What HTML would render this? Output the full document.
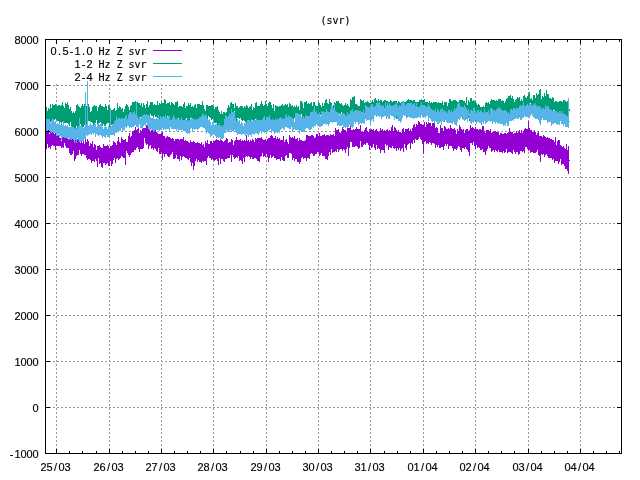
<!DOCTYPE html>
<html lang="en">
<head>
<meta charset="utf-8">
<title>(svr)</title>
<style>
html,body{margin:0;padding:0;background:#fff;overflow:hidden}
svg{display:block}
text{font-family:"Liberation Sans","DejaVu Sans",sans-serif;font-size:11px;fill:#000;stroke:#000;stroke-width:.15px;text-anchor:middle}
.d{font-family:"DejaVu Sans Mono","Liberation Mono",monospace;font-size:10px}
.g{stroke:#999999;stroke-width:1;stroke-dasharray:2 2;fill:none}
.b{stroke:#000;stroke-width:1;fill:none}
</style>
</head>
<body>
<svg width="640" height="480" viewBox="0 0 640 480" shape-rendering="crispEdges">
<rect width="640" height="480" fill="#fff"/>
<path class="g" d="M45 85.5 H621 M45 131.5 H621 M45 177.5 H621 M45 223.5 H621 M45 269.5 H621 M45 315.5 H621 M45 361.5 H621 M45 407.5 H621"/>
<path class="g" d="M56.5 454 V39 M109.5 454 V39 M161.5 454 V39 M213.5 454 V39 M266.5 454 V39 M318.5 454 V39 M370.5 454 V39 M423.5 454 V39 M475.5 454 V39 M528.5 454 V39 M580.5 454 V39"/>
<rect x="46" y="44" width="141" height="39" fill="#fff"/>
<path fill="#9400d3" d="M46 130v19h1v-19zM47 131v13h1v-13zM48 129v19h1v-19zM49 134v13h1v-13zM50 131v18h1v-18zM51 133v13h1v-13zM52 132v13h1v-13zM53 133v13h1v-13zM54 134v12h1v-12zM55 133v17h1v-17zM56 131v15h1v-15zM57 133v13h1v-13zM58 135v11h1v-11zM59 133v13h1v-13zM60 138v8h1v-8zM61 141v7h1v-7zM62 138v9h1v-9zM63 137v11h1v-11zM64 136v7h1v-7zM65 136v10h1v-10zM66 138v10h1v-10zM67 138v10h1v-10zM68 139v9h1v-9zM69 138v15h1v-15zM70 136v19h1v-19zM71 139v16h1v-16zM72 138v16h1v-16zM73 139v12h1v-12zM74 140v21h1v-21zM75 139v20h1v-20zM76 139v17h1v-17zM77 139v16h1v-16zM78 139v16h1v-16zM79 141v9h1v-9zM80 143v11h1v-11zM81 140v16h1v-16zM82 143v11h1v-11zM83 139v15h1v-15zM84 144v11h1v-11zM85 137v18h1v-18zM86 142v16h1v-16zM87 139v21h1v-21zM88 141v18h1v-18zM89 146v13h1v-13zM90 143v17h1v-17zM91 144v19h1v-19zM92 141v20h1v-20zM93 147v14h1v-14zM94 144v18h1v-18zM95 145v14h1v-14zM96 150v11h1v-11zM97 146v21h1v-21zM98 146v12h1v-12zM99 145v19h1v-19zM100 147v16h1v-16zM101 148v19h1v-19zM102 148v20h1v-20zM103 144v19h1v-19zM104 146v17h1v-17zM105 146v19h1v-19zM106 146v18h1v-18zM107 145v18h1v-18zM108 146v20h1v-20zM109 148v18h1v-18zM110 146v15h1v-15zM111 146v20h1v-20zM112 145v19h1v-19zM113 141v19h1v-19zM114 142v16h1v-16zM115 143v20h1v-20zM116 145v14h1v-14zM117 141v17h1v-17zM118 137v23h1v-23zM119 142v17h1v-17zM120 143v15h1v-15zM121 137v19h1v-19zM122 139v18h1v-18zM123 140v18h1v-18zM124 140v18h1v-18zM125 139v26h1v-26zM126 142v9h1v-9zM127 142v11h1v-11zM128 136v19h1v-19zM129 133v24h1v-24zM130 137v18h1v-18zM131 136v17h1v-17zM132 131v21h1v-21zM133 131v21h1v-21zM134 130v20h1v-20zM135 127v23h1v-23zM136 130v18h1v-18zM137 129v18h1v-18zM138 128v21h1v-21zM139 133v19h1v-19zM140 130v19h1v-19zM141 131v18h1v-18zM142 128v21h1v-21zM143 128v20h1v-20zM144 128v10h1v-10zM145 128v15h1v-15zM146 125v20h1v-20zM147 126v18h1v-18zM148 124v25h1v-25zM149 126v20h1v-20zM150 132v13h1v-13zM151 130v19h1v-19zM152 130v18h1v-18zM153 129v21h1v-21zM154 130v18h1v-18zM155 129v20h1v-20zM156 132v19h1v-19zM157 133v19h1v-19zM158 134v14h1v-14zM159 134v20h1v-20zM160 134v20h1v-20zM161 133v19h1v-19zM162 132v28h1v-28zM163 136v18h1v-18zM164 136v21h1v-21zM165 138v16h1v-16zM166 137v17h1v-17zM167 136v20h1v-20zM168 137v20h1v-20zM169 137v20h1v-20zM170 138v17h1v-17zM171 139v15h1v-15zM172 138v14h1v-14zM173 139v20h1v-20zM174 141v18h1v-18zM175 139v19h1v-19zM176 139v16h1v-16zM177 139v20h1v-20zM178 139v20h1v-20zM179 140v21h1v-21zM180 139v17h1v-17zM181 139v21h1v-21zM182 139v18h1v-18zM183 137v19h1v-19zM184 141v16h1v-16zM185 140v18h1v-18zM186 141v17h1v-17zM187 141v18h1v-18zM188 142v18h1v-18zM189 143v15h1v-15zM190 140v22h1v-22zM191 142v24h1v-24zM192 142v21h1v-21zM193 141v29h1v-29zM194 142v24h1v-24zM195 143v18h1v-18zM196 143v16h1v-16zM197 142v20h1v-20zM198 143v17h1v-17zM199 143v19h1v-19zM200 144v18h1v-18zM201 142v21h1v-21zM202 145v16h1v-16zM203 144v18h1v-18zM204 147v14h1v-14zM205 141v20h1v-20zM206 143v22h1v-22zM207 140v18h1v-18zM208 144v12h1v-12zM209 144v14h1v-14zM210 141v17h1v-17zM211 141v19h1v-19zM212 143v16h1v-16zM213 141v19h1v-19zM214 141v20h1v-20zM215 140v20h1v-20zM216 139v20h1v-20zM217 140v21h1v-21zM218 140v25h1v-25zM219 141v17h1v-17zM220 139v25h1v-25zM221 140v19h1v-19zM222 141v18h1v-18zM223 142v19h1v-19zM224 141v21h1v-21zM225 140v19h1v-19zM226 138v21h1v-21zM227 139v19h1v-19zM228 143v15h1v-15zM229 142v16h1v-16zM230 142v13h1v-13zM231 139v23h1v-23zM232 140v15h1v-15zM233 145v12h1v-12zM234 141v18h1v-18zM235 140v18h1v-18zM236 137v20h1v-20zM237 140v18h1v-18zM238 140v16h1v-16zM239 140v21h1v-21zM240 139v21h1v-21zM241 141v20h1v-20zM242 140v24h1v-24zM243 141v17h1v-17zM244 140v22h1v-22zM245 141v16h1v-16zM246 135v21h1v-21zM247 141v16h1v-16zM248 140v16h1v-16zM249 142v15h1v-15zM250 140v19h1v-19zM251 141v16h1v-16zM252 139v20h1v-20zM253 140v19h1v-19zM254 142v16h1v-16zM255 138v20h1v-20zM256 139v20h1v-20zM257 138v23h1v-23zM258 138v23h1v-23zM259 138v24h1v-24zM260 138v19h1v-19zM261 137v19h1v-19zM262 139v14h1v-14zM263 140v17h1v-17zM264 140v16h1v-16zM265 139v18h1v-18zM266 141v13h1v-13zM267 139v18h1v-18zM268 138v24h1v-24zM269 138v20h1v-20zM270 136v19h1v-19zM271 135v23h1v-23zM272 136v21h1v-21zM273 138v18h1v-18zM274 138v20h1v-20zM275 136v22h1v-22zM276 139v21h1v-21zM277 137v22h1v-22zM278 139v20h1v-20zM279 138v21h1v-21zM280 140v21h1v-21zM281 140v17h1v-17zM282 140v20h1v-20zM283 136v25h1v-25zM284 142v19h1v-19zM285 140v16h1v-16zM286 139v16h1v-16zM287 142v16h1v-16zM288 144v14h1v-14zM289 135v18h1v-18zM290 137v16h1v-16zM291 138v16h1v-16zM292 137v23h1v-23zM293 138v20h1v-20zM294 136v25h1v-25zM295 139v20h1v-20zM296 139v20h1v-20zM297 138v24h1v-24zM298 141v21h1v-21zM299 138v26h1v-26zM300 140v22h1v-22zM301 140v18h1v-18zM302 141v16h1v-16zM303 141v18h1v-18zM304 141v17h1v-17zM305 140v18h1v-18zM306 135v26h1v-26zM307 135v23h1v-23zM308 136v22h1v-22zM309 136v23h1v-23zM310 136v18h1v-18zM311 135v18h1v-18zM312 135v19h1v-19zM313 136v20h1v-20zM314 138v18h1v-18zM315 137v17h1v-17zM316 134v20h1v-20zM317 134v18h1v-18zM318 136v16h1v-16zM319 133v23h1v-23zM320 136v19h1v-19zM321 136v17h1v-17zM322 135v21h1v-21zM323 135v21h1v-21zM324 134v22h1v-22zM325 136v23h1v-23zM326 135v24h1v-24zM327 135v25h1v-25zM328 135v21h1v-21zM329 136v16h1v-16zM330 134v21h1v-21zM331 135v14h1v-14zM332 135v18h1v-18zM333 134v18h1v-18zM334 136v16h1v-16zM335 128v23h1v-23zM336 130v22h1v-22zM337 130v19h1v-19zM338 129v23h1v-23zM339 132v18h1v-18zM340 133v16h1v-16zM341 131v18h1v-18zM342 127v24h1v-24zM343 129v20h1v-20zM344 130v20h1v-20zM345 130v23h1v-23zM346 132v17h1v-17zM347 127v20h1v-20zM348 128v28h1v-28zM349 128v20h1v-20zM350 126v16h1v-16zM351 130v12h1v-12zM352 130v17h1v-17zM353 129v18h1v-18zM354 130v17h1v-17zM355 129v17h1v-17zM356 127v19h1v-19zM357 129v18h1v-18zM358 129v20h1v-20zM359 129v19h1v-19zM360 125v16h1v-16zM361 132v15h1v-15zM362 131v16h1v-16zM363 132v13h1v-13zM364 130v14h1v-14zM365 128v17h1v-17zM366 127v16h1v-16zM367 131v12h1v-12zM368 132v13h1v-13zM369 129v21h1v-21zM370 130v16h1v-16zM371 129v19h1v-19zM372 130v17h1v-17zM373 129v15h1v-15zM374 131v17h1v-17zM375 130v20h1v-20zM376 129v16h1v-16zM377 131v18h1v-18zM378 132v16h1v-16zM379 131v18h1v-18zM380 128v25h1v-25zM381 130v20h1v-20zM382 129v21h1v-21zM383 131v19h1v-19zM384 130v23h1v-23zM385 131v13h1v-13zM386 130v16h1v-16zM387 129v16h1v-16zM388 131v19h1v-19zM389 130v17h1v-17zM390 131v17h1v-17zM391 127v21h1v-21zM392 125v21h1v-21zM393 131v17h1v-17zM394 127v22h1v-22zM395 128v20h1v-20zM396 130v21h1v-21zM397 132v16h1v-16zM398 130v20h1v-20zM399 132v16h1v-16zM400 132v19h1v-19zM401 133v16h1v-16zM402 129v19h1v-19zM403 128v24h1v-24zM404 132v12h1v-12zM405 129v19h1v-19zM406 129v21h1v-21zM407 129v16h1v-16zM408 128v16h1v-16zM409 131v12h1v-12zM410 129v20h1v-20zM411 131v12h1v-12zM412 128v16h1v-16zM413 125v15h1v-15zM414 124v19h1v-19zM415 127v12h1v-12zM416 124v16h1v-16zM417 125v15h1v-15zM418 121v18h1v-18zM419 122v15h1v-15zM420 124v15h1v-15zM421 124v16h1v-16zM422 125v19h1v-19zM423 125v29h1v-29zM424 122v20h1v-20zM425 127v14h1v-14zM426 122v22h1v-22zM427 124v19h1v-19zM428 122v22h1v-22zM429 123v19h1v-19zM430 123v20h1v-20zM431 126v19h1v-19zM432 123v20h1v-20zM433 123v20h1v-20zM434 124v20h1v-20zM435 128v20h1v-20zM436 127v18h1v-18zM437 128v19h1v-19zM438 133v12h1v-12zM439 133v15h1v-15zM440 125v23h1v-23zM441 128v19h1v-19zM442 128v19h1v-19zM443 131v19h1v-19zM444 126v20h1v-20zM445 127v17h1v-17zM446 129v17h1v-17zM447 129v15h1v-15zM448 128v21h1v-21zM449 129v17h1v-17zM450 125v21h1v-21zM451 128v18h1v-18zM452 129v19h1v-19zM453 129v22h1v-22zM454 128v21h1v-21zM455 130v19h1v-19zM456 134v16h1v-16zM457 129v19h1v-19zM458 131v15h1v-15zM459 125v22h1v-22zM460 127v23h1v-23zM461 129v23h1v-23zM462 130v18h1v-18zM463 129v19h1v-19zM464 133v16h1v-16zM465 130v17h1v-17zM466 129v20h1v-20zM467 129v21h1v-21zM468 131v21h1v-21zM469 130v26h1v-26zM470 125v18h1v-18zM471 128v15h1v-15zM472 127v18h1v-18zM473 128v14h1v-14zM474 129v17h1v-17zM475 127v22h1v-22zM476 129v16h1v-16zM477 129v19h1v-19zM478 130v17h1v-17zM479 129v19h1v-19zM480 129v21h1v-21zM481 130v20h1v-20zM482 126v23h1v-23zM483 126v26h1v-26zM484 131v21h1v-21zM485 133v22h1v-22zM486 130v21h1v-21zM487 130v19h1v-19zM488 130v16h1v-16zM489 131v17h1v-17zM490 129v19h1v-19zM491 133v19h1v-19zM492 132v19h1v-19zM493 132v18h1v-18zM494 131v21h1v-21zM495 131v19h1v-19zM496 132v19h1v-19zM497 132v20h1v-20zM498 132v18h1v-18zM499 135v17h1v-17zM500 133v19h1v-19zM501 133v19h1v-19zM502 134v19h1v-19zM503 134v17h1v-17zM504 133v20h1v-20zM505 133v19h1v-19zM506 134v15h1v-15zM507 133v20h1v-20zM508 132v20h1v-20zM509 128v24h1v-24zM510 132v20h1v-20zM511 132v21h1v-21zM512 132v22h1v-22zM513 134v16h1v-16zM514 133v19h1v-19zM515 133v21h1v-21zM516 131v21h1v-21zM517 133v19h1v-19zM518 132v23h1v-23zM519 130v24h1v-24zM520 133v18h1v-18zM521 130v21h1v-21zM522 133v19h1v-19zM523 131v20h1v-20zM524 129v24h1v-24zM525 128v19h1v-19zM526 129v18h1v-18zM527 129v20h1v-20zM528 121v30h1v-30zM529 128v22h1v-22zM530 130v23h1v-23zM531 130v22h1v-22zM532 132v20h1v-20zM533 132v21h1v-21zM534 130v23h1v-23zM535 132v21h1v-21zM536 135v17h1v-17zM537 133v17h1v-17zM538 131v24h1v-24zM539 136v20h1v-20zM540 136v26h1v-26zM541 136v18h1v-18zM542 137v18h1v-18zM543 135v19h1v-19zM544 136v21h1v-21zM545 137v18h1v-18zM546 138v16h1v-16zM547 137v19h1v-19zM548 138v20h1v-20zM549 138v20h1v-20zM550 139v19h1v-19zM551 139v19h1v-19zM552 140v20h1v-20zM553 140v19h1v-19zM554 142v21h1v-21zM555 137v24h1v-24zM556 145v16h1v-16zM557 141v20h1v-20zM558 140v24h1v-24zM559 140v22h1v-22zM560 145v14h1v-14zM561 146v19h1v-19zM562 147v17h1v-17zM563 146v18h1v-18zM564 148v18h1v-18zM565 149v20h1v-20zM566 144v25h1v-25zM567 150v21h1v-21zM568 146v28h1v-28z"/>
<path fill="#009e73" d="M46 107v14h1v-14zM47 111v15h1v-15zM48 108v18h1v-18zM49 109v14h1v-14zM50 104v18h1v-18zM51 108v14h1v-14zM52 104v20h1v-20zM53 105v16h1v-16zM54 105v15h1v-15zM55 104v15h1v-15zM56 105v15h1v-15zM57 106v15h1v-15zM58 105v16h1v-16zM59 105v18h1v-18zM60 106v16h1v-16zM61 105v20h1v-20zM62 102v20h1v-20zM63 106v17h1v-17zM64 108v15h1v-15zM65 103v20h1v-20zM66 104v19h1v-19zM67 102v21h1v-21zM68 105v19h1v-19zM69 109v17h1v-17zM70 107v15h1v-15zM71 111v19h1v-19zM72 113v15h1v-15zM73 112v17h1v-17zM74 113v16h1v-16zM75 111v18h1v-18zM76 105v21h1v-21zM77 104v25h1v-25zM78 106v21h1v-21zM79 107v22h1v-22zM80 108v16h1v-16zM81 106v20h1v-20zM82 104v23h1v-23zM83 106v21h1v-21zM84 104v21h1v-21zM85 104v24h1v-24zM86 106v22h1v-22zM87 105v22h1v-22zM88 104v17h1v-17zM89 107v14h1v-14zM90 112v10h1v-10zM91 111v11h1v-11zM92 107v16h1v-16zM93 106v19h1v-19zM94 105v19h1v-19zM95 106v17h1v-17zM96 106v14h1v-14zM97 111v13h1v-13zM98 107v17h1v-17zM99 105v18h1v-18zM100 104v18h1v-18zM101 106v19h1v-19zM102 106v20h1v-20zM103 107v17h1v-17zM104 107v19h1v-19zM105 104v21h1v-21zM106 106v18h1v-18zM107 110v13h1v-13zM108 105v18h1v-18zM109 106v21h1v-21zM110 109v14h1v-14zM111 110v15h1v-15zM112 110v16h1v-16zM113 109v16h1v-16zM114 108v16h1v-16zM115 111v12h1v-12zM116 110v11h1v-11zM117 103v19h1v-19zM118 108v14h1v-14zM119 106v15h1v-15zM120 107v16h1v-16zM121 109v10h1v-10zM122 108v11h1v-11zM123 112v7h1v-7zM124 109v10h1v-10zM125 106v15h1v-15zM126 104v15h1v-15zM127 105v14h1v-14zM128 107v12h1v-12zM129 110v11h1v-11zM130 106v6h1v-6zM131 105v10h1v-10zM132 102v12h1v-12zM133 102v12h1v-12zM134 102v14h1v-14zM135 101v15h1v-15zM136 107v11h1v-11zM137 102v19h1v-19zM138 103v22h1v-22zM139 103v17h1v-17zM140 105v12h1v-12zM141 103v17h1v-17zM142 107v10h1v-10zM143 103v12h1v-12zM144 105v12h1v-12zM145 108v10h1v-10zM146 104v10h1v-10zM147 101v15h1v-15zM148 107v9h1v-9zM149 105v13h1v-13zM150 102v12h1v-12zM151 102v14h1v-14zM152 102v14h1v-14zM153 105v12h1v-12zM154 104v11h1v-11zM155 105v12h1v-12zM156 105v12h1v-12zM157 101v17h1v-17zM158 105v10h1v-10zM159 103v18h1v-18zM160 104v13h1v-13zM161 102v15h1v-15zM162 103v14h1v-14zM163 103v15h1v-15zM164 99v20h1v-20zM165 100v18h1v-18zM166 104v14h1v-14zM167 103v13h1v-13zM168 103v14h1v-14zM169 102v14h1v-14zM170 105v15h1v-15zM171 102v18h1v-18zM172 103v15h1v-15zM173 104v18h1v-18zM174 105v16h1v-16zM175 102v19h1v-19zM176 102v18h1v-18zM177 101v20h1v-20zM178 107v11h1v-11zM179 106v16h1v-16zM180 106v17h1v-17zM181 106v13h1v-13zM182 107v15h1v-15zM183 104v17h1v-17zM184 102v19h1v-19zM185 108v13h1v-13zM186 106v12h1v-12zM187 106v15h1v-15zM188 103v18h1v-18zM189 105v15h1v-15zM190 103v15h1v-15zM191 107v13h1v-13zM192 106v14h1v-14zM193 107v12h1v-12zM194 105v15h1v-15zM195 104v20h1v-20zM196 108v14h1v-14zM197 104v17h1v-17zM198 104v19h1v-19zM199 104v17h1v-17zM200 105v12h1v-12zM201 105v13h1v-13zM202 101v16h1v-16zM203 105v13h1v-13zM204 109v12h1v-12zM205 111v11h1v-11zM206 105v13h1v-13zM207 105v16h1v-16zM208 106v10h1v-10zM209 106v11h1v-11zM210 106v12h1v-12zM211 105v15h1v-15zM212 105v14h1v-14zM213 106v13h1v-13zM214 109v14h1v-14zM215 107v16h1v-16zM216 107v16h1v-16zM217 106v21h1v-21zM218 110v17h1v-17zM219 112v15h1v-15zM220 114v15h1v-15zM221 111v17h1v-17zM222 114v13h1v-13zM223 112v15h1v-15zM224 112v11h1v-11zM225 113v6h1v-6zM226 112v6h1v-6zM227 108v11h1v-11zM228 105v15h1v-15zM229 107v9h1v-9zM230 103v13h1v-13zM231 102v12h1v-12zM232 104v10h1v-10zM233 104v12h1v-12zM234 108v3h1v-3zM235 103v16h1v-16zM236 106v17h1v-17zM237 106v12h1v-12zM238 108v10h1v-10zM239 107v12h1v-12zM240 106v12h1v-12zM241 106v14h1v-14zM242 106v15h1v-15zM243 108v12h1v-12zM244 106v15h1v-15zM245 107v15h1v-15zM246 105v20h1v-20zM247 106v21h1v-21zM248 108v18h1v-18zM249 107v15h1v-15zM250 106v15h1v-15zM251 104v19h1v-19zM252 110v10h1v-10zM253 107v16h1v-16zM254 108v16h1v-16zM255 103v16h1v-16zM256 102v20h1v-20zM257 106v17h1v-17zM258 106v17h1v-17zM259 106v16h1v-16zM260 104v23h1v-23zM261 101v21h1v-21zM262 104v17h1v-17zM263 106v14h1v-14zM264 105v14h1v-14zM265 101v21h1v-21zM266 104v17h1v-17zM267 106v14h1v-14zM268 103v19h1v-19zM269 102v16h1v-16zM270 102v19h1v-19zM271 105v16h1v-16zM272 108v13h1v-13zM273 104v17h1v-17zM274 111v10h1v-10zM275 105v16h1v-16zM276 106v19h1v-19zM277 106v15h1v-15zM278 107v14h1v-14zM279 106v15h1v-15zM280 106v15h1v-15zM281 105v16h1v-16zM282 104v17h1v-17zM283 106v17h1v-17zM284 105v16h1v-16zM285 104v12h1v-12zM286 105v12h1v-12zM287 104v13h1v-13zM288 107v9h1v-9zM289 103v15h1v-15zM290 104v17h1v-17zM291 106v14h1v-14zM292 105v15h1v-15zM293 107v14h1v-14zM294 106v12h1v-12zM295 107v9h1v-9zM296 105v11h1v-11zM297 107v8h1v-8zM298 106v12h1v-12zM299 110v7h1v-7zM300 101v15h1v-15zM301 101v13h1v-13zM302 103v15h1v-15zM303 108v10h1v-10zM304 102v18h1v-18zM305 102v16h1v-16zM306 101v16h1v-16zM307 104v13h1v-13zM308 103v14h1v-14zM309 104v15h1v-15zM310 103v17h1v-17zM311 102v13h1v-13zM312 106v8h1v-8zM313 102v9h1v-9zM314 102v8h1v-8zM315 105v8h1v-8zM316 106v6h1v-6zM317 106v10h1v-10zM318 102v15h1v-15zM319 103v13h1v-13zM320 105v10h1v-10zM321 107v8h1v-8zM322 103v12h1v-12zM323 106v8h1v-8zM324 103v11h1v-11zM325 100v14h1v-14zM326 99v15h1v-15zM327 103v9h1v-9zM328 104v9h1v-9zM329 99v15h1v-15zM330 102v8h1v-8zM331 103v9h1v-9zM332 106v2h1v-2zM333 105v3h1v-3zM334 102v6h1v-6zM335 103v11h1v-11zM336 101v12h1v-12zM337 101v13h1v-13zM338 101v12h1v-12zM339 103v11h1v-11zM340 104v14h1v-14zM341 103v9h1v-9zM342 105v11h1v-11zM343 106v11h1v-11zM344 105v13h1v-13zM345 103v13h1v-13zM346 105v13h1v-13zM347 104v12h1v-12zM348 106v9h1v-9zM349 107v7h1v-7zM350 99v14h1v-14zM351 100v13h1v-13zM352 97v14h1v-14zM353 97v16h1v-16zM354 96v16h1v-16zM355 104v9h1v-9zM356 104v9h1v-9zM357 105v8h1v-8zM358 106v6h1v-6zM359 106v7h1v-7zM360 99v13h1v-13zM361 100v12h1v-12zM362 101v12h1v-12zM363 100v13h1v-13zM364 103v11h1v-11zM365 102v15h1v-15zM366 102v16h1v-16zM367 101v17h1v-17zM368 102v17h1v-17zM369 103v17h1v-17zM370 103v17h1v-17zM371 102v17h1v-17zM372 100v19h1v-19zM373 102v16h1v-16zM374 99v15h1v-15zM375 98v16h1v-16zM376 100v14h1v-14zM377 101v12h1v-12zM378 99v17h1v-17zM379 101v14h1v-14zM380 100v15h1v-15zM381 100v15h1v-15zM382 102v11h1v-11zM383 101v14h1v-14zM384 100v16h1v-16zM385 100v15h1v-15zM386 101v15h1v-15zM387 101v15h1v-15zM388 102v14h1v-14zM389 102v17h1v-17zM390 100v14h1v-14zM391 101v14h1v-14zM392 102v14h1v-14zM393 101v13h1v-13zM394 101v15h1v-15zM395 101v14h1v-14zM396 101v18h1v-18zM397 103v14h1v-14zM398 101v18h1v-18zM399 102v19h1v-19zM400 103v16h1v-16zM401 102v17h1v-17zM402 102v14h1v-14zM403 101v13h1v-13zM404 102v12h1v-12zM405 102v13h1v-13zM406 101v11h1v-11zM407 100v17h1v-17zM408 99v16h1v-16zM409 100v17h1v-17zM410 100v16h1v-16zM411 100v16h1v-16zM412 101v16h1v-16zM413 100v18h1v-18zM414 100v16h1v-16zM415 102v14h1v-14zM416 102v13h1v-13zM417 102v12h1v-12zM418 102v15h1v-15zM419 100v16h1v-16zM420 100v16h1v-16zM421 99v16h1v-16zM422 100v16h1v-16zM423 100v14h1v-14zM424 99v17h1v-17zM425 102v16h1v-16zM426 102v14h1v-14zM427 102v14h1v-14zM428 103v18h1v-18zM429 101v17h1v-17zM430 103v12h1v-12zM431 102v17h1v-17zM432 103v17h1v-17zM433 102v18h1v-18zM434 102v22h1v-22zM435 102v19h1v-19zM436 102v19h1v-19zM437 103v17h1v-17zM438 102v17h1v-17zM439 103v20h1v-20zM440 103v16h1v-16zM441 103v19h1v-19zM442 101v19h1v-19zM443 105v16h1v-16zM444 102v20h1v-20zM445 102v17h1v-17zM446 102v17h1v-17zM447 106v12h1v-12zM448 103v19h1v-19zM449 99v24h1v-24zM450 99v23h1v-23zM451 101v21h1v-21zM452 101v23h1v-23zM453 100v22h1v-22zM454 100v24h1v-24zM455 100v23h1v-23zM456 101v23h1v-23zM457 102v19h1v-19zM458 102v16h1v-16zM459 100v18h1v-18zM460 100v16h1v-16zM461 100v17h1v-17zM462 100v19h1v-19zM463 101v14h1v-14zM464 101v17h1v-17zM465 103v14h1v-14zM466 97v22h1v-22zM467 105v10h1v-10zM468 100v18h1v-18zM469 102v19h1v-19zM470 98v22h1v-22zM471 98v21h1v-21zM472 101v18h1v-18zM473 100v19h1v-19zM474 101v19h1v-19zM475 101v20h1v-20zM476 103v18h1v-18zM477 105v15h1v-15zM478 104v18h1v-18zM479 105v18h1v-18zM480 107v14h1v-14zM481 107v18h1v-18zM482 107v12h1v-12zM483 106v15h1v-15zM484 107v13h1v-13zM485 103v19h1v-19zM486 102v19h1v-19zM487 103v17h1v-17zM488 102v18h1v-18zM489 104v15h1v-15zM490 101v19h1v-19zM491 99v20h1v-20zM492 100v21h1v-21zM493 100v17h1v-17zM494 100v21h1v-21zM495 101v21h1v-21zM496 100v20h1v-20zM497 101v19h1v-19zM498 99v24h1v-24zM499 99v23h1v-23zM500 99v22h1v-22zM501 101v21h1v-21zM502 100v23h1v-23zM503 101v22h1v-22zM504 103v21h1v-21zM505 101v23h1v-23zM506 99v24h1v-24zM507 98v27h1v-27zM508 96v28h1v-28zM509 96v24h1v-24zM510 95v24h1v-24zM511 98v22h1v-22zM512 96v22h1v-22zM513 99v20h1v-20zM514 102v17h1v-17zM515 100v19h1v-19zM516 99v19h1v-19zM517 97v21h1v-21zM518 98v20h1v-20zM519 97v20h1v-20zM520 101v19h1v-19zM521 99v11h1v-11zM522 101v6h1v-6zM523 96v12h1v-12zM524 95v11h1v-11zM525 97v11h1v-11zM526 98v9h1v-9zM527 96v12h1v-12zM528 94v13h1v-13zM529 92v13h1v-13zM530 99v4h1v-4zM531 98v10h1v-10zM532 100v7h1v-7zM533 95v12h1v-12zM534 95v13h1v-13zM535 98v9h1v-9zM536 93v14h1v-14zM537 95v13h1v-13zM538 94v15h1v-15zM539 90v20h1v-20zM540 89v20h1v-20zM541 99v11h1v-11zM542 96v18h1v-18zM543 97v12h1v-12zM544 93v19h1v-19zM545 96v10h1v-10zM546 90v18h1v-18zM547 94v16h1v-16zM548 94v14h1v-14zM549 98v13h1v-13zM550 98v13h1v-13zM551 99v13h1v-13zM552 97v16h1v-16zM553 98v12h1v-12zM554 102v10h1v-10zM555 101v15h1v-15zM556 101v13h1v-13zM557 102v12h1v-12zM558 102v12h1v-12zM559 101v13h1v-13zM560 101v15h1v-15zM561 101v15h1v-15zM562 102v15h1v-15zM563 100v15h1v-15zM564 100v14h1v-14zM565 101v13h1v-13zM566 102v14h1v-14zM567 101v17h1v-17zM568 99v19h1v-19z"/>
<path fill="#56b4e9" d="M46 119v12h1v-12zM47 119v12h1v-12zM48 119v11h1v-11zM49 119v14h1v-14zM50 123v9h1v-9zM51 120v13h1v-13zM52 119v13h1v-13zM53 119v14h1v-14zM54 122v11h1v-11zM55 121v12h1v-12zM56 125v11h1v-11zM57 123v13h1v-13zM58 124v10h1v-10zM59 123v15h1v-15zM60 125v11h1v-11zM61 125v15h1v-15zM62 125v13h1v-13zM63 121v16h1v-16zM64 126v12h1v-12zM65 125v13h1v-13zM66 126v12h1v-12zM67 125v14h1v-14zM68 127v11h1v-11zM69 127v13h1v-13zM70 127v12h1v-12zM71 126v14h1v-14zM72 127v12h1v-12zM73 127v13h1v-13zM74 128v15h1v-15zM75 129v11h1v-11zM76 128v15h1v-15zM77 128v10h1v-10zM78 126v14h1v-14zM79 118v24h1v-24zM80 126v16h1v-16zM81 126v15h1v-15zM82 127v14h1v-14zM83 128v13h1v-13zM84 127v12h1v-12zM85 92v47h1v-47zM86 124v11h1v-11zM87 81v55h1v-55zM88 126v9h1v-9zM89 125v9h1v-9zM90 123v11h1v-11zM91 125v10h1v-10zM92 125v8h1v-8zM93 125v9h1v-9zM94 124v9h1v-9zM95 124v13h1v-13zM96 127v7h1v-7zM97 124v11h1v-11zM98 123v13h1v-13zM99 125v10h1v-10zM100 124v11h1v-11zM101 123v13h1v-13zM102 127v11h1v-11zM103 129v7h1v-7zM104 127v10h1v-10zM105 125v13h1v-13zM106 127v8h1v-8zM107 129v8h1v-8zM108 126v11h1v-11zM109 127v11h1v-11zM110 108v27h1v-27zM111 126v9h1v-9zM112 124v11h1v-11zM113 124v11h1v-11zM114 121v15h1v-15zM115 120v13h1v-13zM116 116v17h1v-17zM117 119v13h1v-13zM118 118v14h1v-14zM119 118v13h1v-13zM120 119v12h1v-12zM121 118v10h1v-10zM122 118v14h1v-14zM123 119v11h1v-11zM124 118v13h1v-13zM125 116v11h1v-11zM126 115v13h1v-13zM127 119v7h1v-7zM128 115v11h1v-11zM129 113v15h1v-15zM130 112v15h1v-15zM131 112v16h1v-16zM132 114v13h1v-13zM133 112v15h1v-15zM134 111v15h1v-15zM135 114v11h1v-11zM136 102v25h1v-25zM137 116v11h1v-11zM138 119v9h1v-9zM139 117v7h1v-7zM140 118v10h1v-10zM141 117v11h1v-11zM142 115v14h1v-14zM143 115v11h1v-11zM144 114v11h1v-11zM145 115v11h1v-11zM146 114v9h1v-9zM147 115v11h1v-11zM148 115v14h1v-14zM149 116v14h1v-14zM150 117v13h1v-13zM151 118v11h1v-11zM152 118v12h1v-12zM153 117v15h1v-15zM154 119v12h1v-12zM155 119v11h1v-11zM156 118v12h1v-12zM157 119v11h1v-11zM158 115v15h1v-15zM159 119v12h1v-12zM160 116v14h1v-14zM161 117v13h1v-13zM162 117v11h1v-11zM163 116v14h1v-14zM164 117v12h1v-12zM165 115v15h1v-15zM166 118v11h1v-11zM167 117v12h1v-12zM168 116v13h1v-13zM169 116v15h1v-15zM170 120v7h1v-7zM171 120v9h1v-9zM172 118v11h1v-11zM173 115v14h1v-14zM174 117v12h1v-12zM175 119v10h1v-10zM176 119v12h1v-12zM177 118v11h1v-11zM178 119v12h1v-12zM179 120v10h1v-10zM180 119v11h1v-11zM181 117v13h1v-13zM182 120v10h1v-10zM183 120v11h1v-11zM184 120v11h1v-11zM185 119v13h1v-13zM186 120v13h1v-13zM187 120v14h1v-14zM188 121v12h1v-12zM189 120v14h1v-14zM190 119v10h1v-10zM191 117v11h1v-11zM192 118v14h1v-14zM193 119v10h1v-10zM194 119v11h1v-11zM195 120v9h1v-9zM196 119v10h1v-10zM197 119v11h1v-11zM198 119v10h1v-10zM199 117v11h1v-11zM200 117v10h1v-10zM201 116v11h1v-11zM202 114v13h1v-13zM203 114v14h1v-14zM204 116v12h1v-12zM205 114v16h1v-16zM206 116v18h1v-18zM207 119v13h1v-13zM208 120v13h1v-13zM209 119v15h1v-15zM210 122v15h1v-15zM211 125v11h1v-11zM212 122v13h1v-13zM213 119v14h1v-14zM214 125v10h1v-10zM215 124v12h1v-12zM216 124v14h1v-14zM217 125v12h1v-12zM218 125v13h1v-13zM219 123v14h1v-14zM220 126v14h1v-14zM221 125v14h1v-14zM222 127v12h1v-12zM223 125v13h1v-13zM224 119v14h1v-14zM225 115v18h1v-18zM226 116v14h1v-14zM227 117v15h1v-15zM228 116v16h1v-16zM229 114v17h1v-17zM230 114v16h1v-16zM231 109v23h1v-23zM232 112v19h1v-19zM233 112v19h1v-19zM234 112v18h1v-18zM235 118v14h1v-14zM236 121v12h1v-12zM237 119v16h1v-16zM238 121v13h1v-13zM239 120v14h1v-14zM240 124v10h1v-10zM241 122v13h1v-13zM242 123v11h1v-11zM243 126v8h1v-8zM244 123v11h1v-11zM245 123v13h1v-13zM246 123v11h1v-11zM247 120v15h1v-15zM248 120v17h1v-17zM249 120v15h1v-15zM250 121v14h1v-14zM251 119v18h1v-18zM252 121v13h1v-13zM253 121v13h1v-13zM254 120v15h1v-15zM255 120v13h1v-13zM256 119v14h1v-14zM257 120v14h1v-14zM258 120v15h1v-15zM259 120v13h1v-13zM260 120v11h1v-11zM261 120v14h1v-14zM262 119v13h1v-13zM263 117v15h1v-15zM264 116v17h1v-17zM265 120v12h1v-12zM266 117v16h1v-16zM267 117v15h1v-15zM268 117v14h1v-14zM269 115v15h1v-15zM270 119v10h1v-10zM271 120v13h1v-13zM272 119v12h1v-12zM273 120v11h1v-11zM274 120v14h1v-14zM275 118v15h1v-15zM276 120v12h1v-12zM277 119v14h1v-14zM278 119v13h1v-13zM279 118v15h1v-15zM280 117v13h1v-13zM281 118v11h1v-11zM282 119v9h1v-9zM283 118v11h1v-11zM284 119v11h1v-11zM285 115v12h1v-12zM286 114v13h1v-13zM287 117v11h1v-11zM288 115v13h1v-13zM289 116v13h1v-13zM290 117v12h1v-12zM291 117v10h1v-10zM292 118v14h1v-14zM293 119v11h1v-11zM294 122v7h1v-7zM295 113v17h1v-17zM296 113v17h1v-17zM297 113v17h1v-17zM298 114v16h1v-16zM299 114v20h1v-20zM300 115v16h1v-16zM301 117v15h1v-15zM302 118v13h1v-13zM303 116v16h1v-16zM304 118v14h1v-14zM305 115v14h1v-14zM306 116v12h1v-12zM307 116v12h1v-12zM308 116v13h1v-13zM309 116v14h1v-14zM310 112v18h1v-18zM311 112v17h1v-17zM312 112v15h1v-15zM313 110v18h1v-18zM314 106v20h1v-20zM315 112v14h1v-14zM316 111v13h1v-13zM317 114v12h1v-12zM318 114v11h1v-11zM319 112v15h1v-15zM320 116v11h1v-11zM321 111v15h1v-15zM322 112v14h1v-14zM323 111v13h1v-13zM324 112v12h1v-12zM325 112v12h1v-12zM326 109v16h1v-16zM327 111v13h1v-13zM328 112v14h1v-14zM329 112v12h1v-12zM330 109v13h1v-13zM331 105v17h1v-17zM332 106v17h1v-17zM333 108v14h1v-14zM334 104v18h1v-18zM335 111v11h1v-11zM336 112v10h1v-10zM337 112v14h1v-14zM338 113v12h1v-12zM339 115v11h1v-11zM340 114v12h1v-12zM341 114v12h1v-12zM342 114v11h1v-11zM343 113v15h1v-15zM344 114v13h1v-13zM345 115v13h1v-13zM346 116v11h1v-11zM347 112v16h1v-16zM348 114v13h1v-13zM349 114v11h1v-11zM350 111v15h1v-15zM351 110v17h1v-17zM352 109v19h1v-19zM353 112v14h1v-14zM354 111v11h1v-11zM355 110v14h1v-14zM356 110v12h1v-12zM357 111v11h1v-11zM358 110v15h1v-15zM359 111v13h1v-13zM360 111v12h1v-12zM361 112v12h1v-12zM362 112v11h1v-11zM363 110v13h1v-13zM364 113v11h1v-11zM365 105v14h1v-14zM366 106v15h1v-15zM367 107v13h1v-13zM368 107v13h1v-13zM369 108v12h1v-12zM370 106v19h1v-19zM371 104v17h1v-17zM372 104v14h1v-14zM373 107v15h1v-15zM374 106v10h1v-10zM375 106v9h1v-9zM376 103v14h1v-14zM377 102v14h1v-14zM378 103v13h1v-13zM379 102v15h1v-15zM380 105v11h1v-11zM381 106v13h1v-13zM382 105v12h1v-12zM383 106v11h1v-11zM384 108v8h1v-8zM385 102v14h1v-14zM386 106v13h1v-13zM387 103v14h1v-14zM388 105v14h1v-14zM389 103v16h1v-16zM390 105v10h1v-10zM391 106v10h1v-10zM392 106v10h1v-10zM393 105v12h1v-12zM394 105v15h1v-15zM395 104v14h1v-14zM396 103v13h1v-13zM397 105v14h1v-14zM398 107v14h1v-14zM399 105v16h1v-16zM400 106v17h1v-17zM401 103v18h1v-18zM402 103v15h1v-15zM403 102v13h1v-13zM404 103v13h1v-13zM405 106v10h1v-10zM406 104v15h1v-15zM407 103v13h1v-13zM408 103v14h1v-14zM409 103v14h1v-14zM410 103v15h1v-15zM411 103v15h1v-15zM412 105v13h1v-13zM413 104v15h1v-15zM414 103v15h1v-15zM415 106v12h1v-12zM416 103v15h1v-15zM417 107v11h1v-11zM418 107v10h1v-10zM419 107v10h1v-10zM420 105v13h1v-13zM421 102v13h1v-13zM422 105v12h1v-12zM423 105v12h1v-12zM424 105v12h1v-12zM425 106v12h1v-12zM426 107v9h1v-9zM427 106v10h1v-10zM428 104v16h1v-16zM429 106v12h1v-12zM430 108v11h1v-11zM431 109v12h1v-12zM432 110v12h1v-12zM433 110v11h1v-11zM434 111v11h1v-11zM435 109v12h1v-12zM436 112v10h1v-10zM437 109v15h1v-15zM438 110v14h1v-14zM439 112v11h1v-11zM440 109v13h1v-13zM441 109v16h1v-16zM442 108v13h1v-13zM443 111v11h1v-11zM444 110v11h1v-11zM445 112v8h1v-8zM446 111v11h1v-11zM447 113v10h1v-10zM448 110v13h1v-13zM449 110v13h1v-13zM450 112v11h1v-11zM451 110v13h1v-13zM452 112v12h1v-12zM453 111v11h1v-11zM454 108v16h1v-16zM455 109v16h1v-16zM456 108v18h1v-18zM457 104v18h1v-18zM458 103v16h1v-16zM459 103v17h1v-17zM460 106v12h1v-12zM461 107v10h1v-10zM462 107v11h1v-11zM463 107v13h1v-13zM464 105v16h1v-16zM465 107v13h1v-13zM466 108v10h1v-10zM467 110v12h1v-12zM468 109v7h1v-7zM469 113v6h1v-6zM470 110v13h1v-13zM471 110v14h1v-14zM472 111v11h1v-11zM473 108v15h1v-15zM474 108v13h1v-13zM475 111v9h1v-9zM476 113v11h1v-11zM477 110v12h1v-12zM478 110v12h1v-12zM479 112v11h1v-11zM480 110v13h1v-13zM481 111v12h1v-12zM482 112v10h1v-10zM483 113v11h1v-11zM484 109v12h1v-12zM485 112v12h1v-12zM486 112v11h1v-11zM487 112v10h1v-10zM488 110v11h1v-11zM489 114v7h1v-7zM490 108v14h1v-14zM491 108v13h1v-13zM492 109v15h1v-15zM493 110v12h1v-12zM494 110v12h1v-12zM495 111v13h1v-13zM496 109v13h1v-13zM497 109v14h1v-14zM498 107v17h1v-17zM499 108v15h1v-15zM500 108v16h1v-16zM501 110v14h1v-14zM502 110v14h1v-14zM503 111v15h1v-15zM504 110v15h1v-15zM505 110v16h1v-16zM506 111v12h1v-12zM507 113v13h1v-13zM508 112v14h1v-14zM509 114v7h1v-7zM510 109v12h1v-12zM511 109v12h1v-12zM512 110v10h1v-10zM513 108v13h1v-13zM514 108v11h1v-11zM515 109v10h1v-10zM516 108v10h1v-10zM517 108v11h1v-11zM518 108v11h1v-11zM519 106v10h1v-10zM520 105v15h1v-15zM521 106v14h1v-14zM522 105v13h1v-13zM523 102v16h1v-16zM524 106v10h1v-10zM525 106v11h1v-11zM526 105v12h1v-12zM527 104v13h1v-13zM528 106v11h1v-11zM529 103v15h1v-15zM530 104v12h1v-12zM531 105v9h1v-9zM532 106v10h1v-10zM533 104v13h1v-13zM534 105v13h1v-13zM535 103v16h1v-16zM536 105v14h1v-14zM537 107v12h1v-12zM538 106v14h1v-14zM539 106v17h1v-17zM540 107v18h1v-18zM541 109v11h1v-11zM542 108v10h1v-10zM543 108v12h1v-12zM544 109v11h1v-11zM545 105v15h1v-15zM546 107v13h1v-13zM547 106v17h1v-17zM548 106v16h1v-16zM549 109v13h1v-13zM550 109v13h1v-13zM551 110v16h1v-16zM552 111v13h1v-13zM553 111v13h1v-13zM554 109v14h1v-14zM555 111v12h1v-12zM556 111v13h1v-13zM557 112v13h1v-13zM558 113v11h1v-11zM559 111v14h1v-14zM560 111v10h1v-10zM561 113v11h1v-11zM562 111v13h1v-13zM563 114v12h1v-12zM564 114v10h1v-10zM565 114v13h1v-13zM566 116v11h1v-11zM567 116v11h1v-11zM568 98v30h1v-30z"/>
<rect x="569" y="109" width="1" height="2" fill="#009e73"/><rect x="569" y="121" width="1" height="1" fill="#56b4e9"/><rect x="569" y="160" width="1" height="1" fill="#9400d3"/>
<rect x="153" y="50" width="29" height="1" fill="#9400d3"/><rect x="153" y="63" width="29" height="1" fill="#009e73"/><rect x="153" y="76" width="29" height="1" fill="#56b4e9"/>
<rect class="b" x="45.5" y="39.5" width="576" height="414"/>
<path class="b" d="M45 39.5 h5 M622 39.5 h-5 M45 85.5 h5 M622 85.5 h-5 M45 131.5 h5 M622 131.5 h-5 M45 177.5 h5 M622 177.5 h-5 M45 223.5 h5 M622 223.5 h-5 M45 269.5 h5 M622 269.5 h-5 M45 315.5 h5 M622 315.5 h-5 M45 361.5 h5 M622 361.5 h-5 M45 407.5 h5 M622 407.5 h-5 M45 453.5 h5 M622 453.5 h-5 M56.5 39 v5 M56.5 454 v-5 M109.5 39 v5 M109.5 454 v-5 M161.5 39 v5 M161.5 454 v-5 M213.5 39 v5 M213.5 454 v-5 M266.5 39 v5 M266.5 454 v-5 M318.5 39 v5 M318.5 454 v-5 M370.5 39 v5 M370.5 454 v-5 M423.5 39 v5 M423.5 454 v-5 M475.5 39 v5 M475.5 454 v-5 M528.5 39 v5 M528.5 454 v-5 M580.5 39 v5 M580.5 454 v-5 M69.5 39 v3 M69.5 454 v-3 M82.5 39 v3 M82.5 454 v-3 M96.5 39 v3 M96.5 454 v-3 M122.5 39 v3 M122.5 454 v-3 M135.5 39 v3 M135.5 454 v-3 M148.5 39 v3 M148.5 454 v-3 M174.5 39 v3 M174.5 454 v-3 M187.5 39 v3 M187.5 454 v-3 M200.5 39 v3 M200.5 454 v-3 M226.5 39 v3 M226.5 454 v-3 M240.5 39 v3 M240.5 454 v-3 M253.5 39 v3 M253.5 454 v-3 M279.5 39 v3 M279.5 454 v-3 M292.5 39 v3 M292.5 454 v-3 M305.5 39 v3 M305.5 454 v-3 M331.5 39 v3 M331.5 454 v-3 M344.5 39 v3 M344.5 454 v-3 M357.5 39 v3 M357.5 454 v-3 M384.5 39 v3 M384.5 454 v-3 M397.5 39 v3 M397.5 454 v-3 M410.5 39 v3 M410.5 454 v-3 M436.5 39 v3 M436.5 454 v-3 M449.5 39 v3 M449.5 454 v-3 M462.5 39 v3 M462.5 454 v-3 M488.5 39 v3 M488.5 454 v-3 M501.5 39 v3 M501.5 454 v-3 M514.5 39 v3 M514.5 454 v-3 M541.5 39 v3 M541.5 454 v-3 M554.5 39 v3 M554.5 454 v-3 M567.5 39 v3 M567.5 454 v-3 M593.5 39 v3 M593.5 454 v-3 M606.5 39 v3 M606.5 454 v-3 M619.5 39 v3 M619.5 454 v-3"/>
<g>
<text x="323.5 329.5 335.5 341.5 347.5" y="24"><tspan class="d">(svr)</tspan></text>
<text x="17.5 23.5 29.5 35.5" y="44">8000</text>
<text x="17.5 23.5 29.5 35.5" y="90">7000</text>
<text x="17.5 23.5 29.5 35.5" y="136">6000</text>
<text x="17.5 23.5 29.5 35.5" y="182">5000</text>
<text x="17.5 23.5 29.5 35.5" y="228">4000</text>
<text x="17.5 23.5 29.5 35.5" y="274">3000</text>
<text x="17.5 23.5 29.5 35.5" y="320">2000</text>
<text x="17.5 23.5 29.5 35.5" y="366">1000</text>
<text x="35.5" y="412">0</text>
<text x="11.5 17.5 23.5 29.5 35.5" y="458">-1000</text>
<text x="43.5 49.5 55.5 61.5 67.5" y="471">25/03</text>
<text x="96.5 102.5 108.5 114.5 120.5" y="471">26/03</text>
<text x="148.5 154.5 160.5 166.5 172.5" y="471">27/03</text>
<text x="200.5 206.5 212.5 218.5 224.5" y="471">28/03</text>
<text x="253.5 259.5 265.5 271.5 277.5" y="471">29/03</text>
<text x="305.5 311.5 317.5 323.5 329.5" y="471">30/03</text>
<text x="357.5 363.5 369.5 375.5 381.5" y="471">31/03</text>
<text x="410.5 416.5 422.5 428.5 434.5" y="471">01/04</text>
<text x="462.5 468.5 474.5 480.5 486.5" y="471">02/04</text>
<text x="515.5 521.5 527.5 533.5 539.5" y="471">03/04</text>
<text x="567.5 573.5 579.5 585.5 591.5" y="471">04/04</text>
<text x="53.5 59.5 65.5 71.5 77.5 83.5 89.5 95.5 101.5 107.5 113.5 119.5 125.5 131.5 137.5 143.5" y="55">0.5-1.0<tspan class="d"> Hz Z svr</tspan></text>
<text x="77.5 83.5 89.5 95.5 101.5 107.5 113.5 119.5 125.5 131.5 137.5 143.5" y="68">1-2<tspan class="d"> Hz Z svr</tspan></text>
<text x="77.5 83.5 89.5 95.5 101.5 107.5 113.5 119.5 125.5 131.5 137.5 143.5" y="81">2-4<tspan class="d"> Hz Z svr</tspan></text>
</g>
</svg>
</body>
</html>
